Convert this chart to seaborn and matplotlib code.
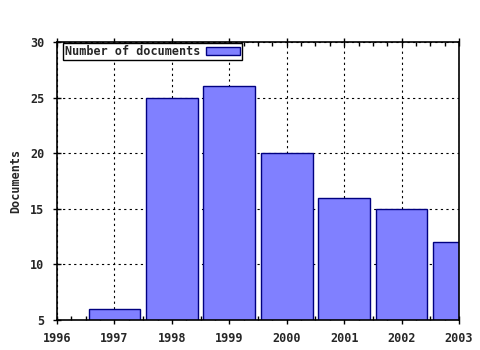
import matplotlib
matplotlib.use("Agg")
import matplotlib.pyplot as plt
import seaborn as sns
import pandas as pd
from matplotlib.ticker import MultipleLocator

years = [1997, 1998, 1999, 2000, 2001, 2002, 2003]
documents = [6, 25, 26, 20, 16, 15, 12]
series_label = "Number of documents"

sns.set_style("white")
plt.rcParams['font.family'] = ['DejaVu Sans Mono', 'DejaVu Sans']

df = pd.DataFrame({"Year": years, "Documents": documents})

fig = plt.figure(figsize=(4.8, 3.5), dpi=100)
ax = fig.add_axes([57/480, 1-320/350, (459-57)/480, (320-42)/350])

sns.barplot(data=df, x="Year", y="Documents", native_scale=True, width=0.9,
            color="#8080ff", edgecolor="#000080", linewidth=1.0, saturation=1,
            label=series_label, ax=ax)

ax.set_xlim(1996, 2003)
ax.set_ylim(5, 30)
ax.xaxis.set_major_locator(MultipleLocator(1))
ax.xaxis.set_minor_locator(MultipleLocator(0.25))
ax.yaxis.set_major_locator(MultipleLocator(5))
ax.set_xticklabels([str(int(t)) for t in ax.get_xticks()])
ax.grid(True, which="major", color="black", linestyle=(0, (2, 3)), linewidth=0.8)
for b in ax.patches:
    b.set_zorder(2)
for l in ax.get_xgridlines() + ax.get_ygridlines():
    l.set_zorder(1.5)

for s in ax.spines.values():
    s.set_color("black")
    s.set_linewidth(1.2)
    s.set_visible(True)

ax.tick_params(axis="both", which="major", direction="inout", length=6, width=1,
               labelsize=8.5, top=True, right=False, left=True, bottom=True, color="black")
ax.tick_params(axis="x", which="major", pad=6)
ax.tick_params(axis="y", which="major", pad=6)
ax.tick_params(axis="x", which="minor", direction="in", length=3, width=1,
               top=True, bottom=True, color="black")
for lab in ax.get_xticklabels() + ax.get_yticklabels():
    lab.set_fontweight("bold")

ax.set_xlabel("")
ax.set_ylabel("Documents", fontsize=8.5, fontweight="bold", labelpad=6)

leg = ax.legend(loc="upper left", bbox_to_anchor=(0.015, 0.995), markerfirst=False,
                fancybox=False, framealpha=1, edgecolor="black", borderpad=0.15,
                handlelength=2.9, handleheight=0.7, handletextpad=0.5, borderaxespad=0,
                prop={"size": 8.5, "weight": "bold"})
leg.get_frame().set_linewidth(1.0)

fig.savefig("out.png", dpi=100)
